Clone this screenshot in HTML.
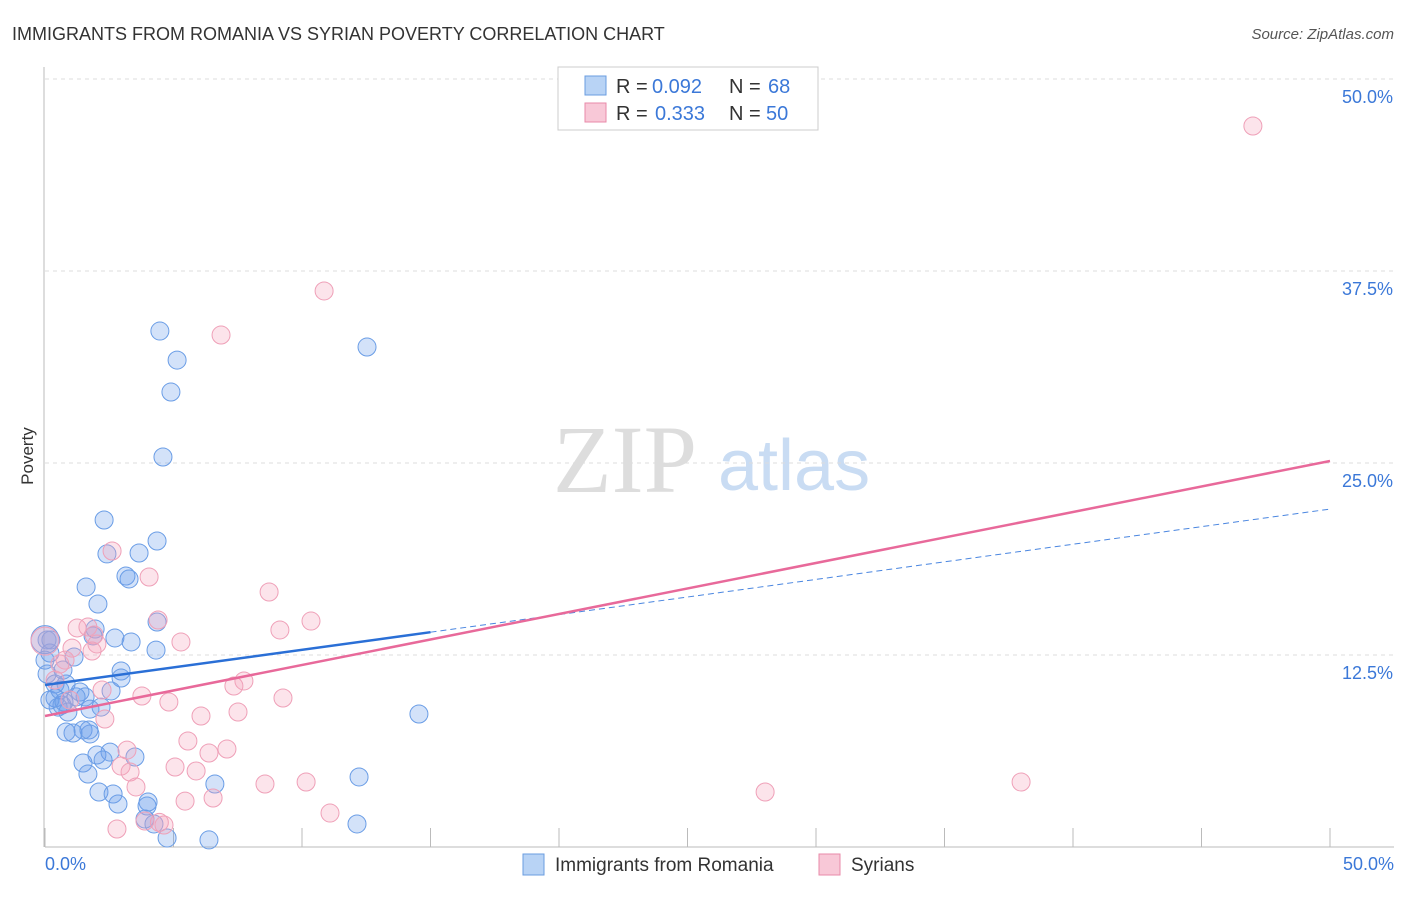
<!DOCTYPE html>
<html><head><meta charset="utf-8"><style>
body{margin:0;background:#fff;font-family:"Liberation Sans",sans-serif}
svg text{font-family:"Liberation Sans",sans-serif}
</style></head><body>
<svg id="chart" width="1406" height="892" xmlns="http://www.w3.org/2000/svg">
<text x="12" y="40" font-size="18" fill="#333">IMMIGRANTS FROM ROMANIA VS SYRIAN POVERTY CORRELATION CHART</text>
<text x="1394" y="39" font-size="15" fill="#555" text-anchor="end" font-style="italic">Source: ZipAtlas.com</text>
<text x="33" y="456" font-size="17" fill="#333" text-anchor="middle" transform="rotate(-90 33 456)">Poverty</text>
<g>
<text x="553" y="492" font-size="96" fill="#ddd" style="font-family:'Liberation Serif',serif">ZIP</text>
<text x="718" y="490" font-size="72" fill="#c9dcf3">atlas</text>
</g>
<g id="grid"></g>
<g id="axes"></g>
<g id="marks"></g>
<g>
<rect x="558" y="67" width="260" height="63" fill="#fff" stroke="#ccc"/>
<rect x="585" y="76" width="21" height="19" fill="#b8d3f5" stroke="#6a9de0"/>
<rect x="585" y="103" width="21" height="19" fill="#f8c8d7" stroke="#e88aa8"/>
<text x="616" y="93" font-size="20" fill="#333">R =</text>
<text x="652" y="93" font-size="20" fill="#3b78d8">0.092</text>
<text x="729" y="93" font-size="20" fill="#333">N =</text>
<text x="768" y="93" font-size="20" fill="#3b78d8">68</text>
<text x="616" y="120" font-size="20" fill="#333">R =</text>
<text x="655" y="120" font-size="20" fill="#3b78d8">0.333</text>
<text x="729" y="120" font-size="20" fill="#333">N =</text>
<text x="766" y="120" font-size="20" fill="#3b78d8">50</text>
</g>
<g>
<rect x="523" y="854" width="21" height="21" fill="#b8d3f5" stroke="#6a9de0"/>
<text x="555" y="871" font-size="19" fill="#333">Immigrants from Romania</text>
<rect x="819" y="854" width="21" height="21" fill="#f8c8d7" stroke="#e88aa8"/>
<text x="851" y="871" font-size="19" fill="#333">Syrians</text>
</g>
</svg>
<script>
const NS="http://www.w3.org/2000/svg";
const yTicks=[12.5,25,37.5,50];
const yTickLabels=["12.5%","25.0%","37.5%","50.0%"];
const xTicks=[0,5,10,15,20,25,30,35,40,45,50];
const blueX=[4.47,5.14,4.90,12.53,4.59,2.30,4.36,2.41,3.66,1.60,3.15,3.27,2.06,4.36,1.87,1.95,2.72,3.35,4.32,0.08,0.19,1.13,2.96,2.96,0.08,0.39,0.82,1.36,2.57,1.56,0.39,0.66,1.21,2.18,1.75,0.89,0.51,0.19,0.58,1.48,1.09,0.82,1.75,1.71,2.02,2.53,3.50,2.26,1.48,1.67,6.61,12.22,14.55,2.10,2.65,2.84,4.01,3.97,3.89,4.24,12.14,4.75,6.38,0.23,0.70,0.0,0.74,0.0];
const blueY=[33.59,31.70,29.62,32.55,25.39,21.29,19.92,19.08,19.14,16.93,17.64,17.45,15.82,14.65,13.74,14.19,13.61,13.35,12.82,13.48,12.63,12.37,11.46,11.00,11.26,10.61,10.61,10.09,10.16,9.77,9.70,9.24,9.77,9.11,8.98,8.79,9.11,9.57,10.22,7.62,7.42,7.49,7.36,7.62,5.99,6.18,5.86,5.66,5.47,4.75,4.10,4.56,8.66,3.58,3.45,2.80,2.93,2.67,1.82,1.50,1.50,0.59,0.46,13.48,11.52,12.17,9.44,13.5];
const pinkX=[47.00,10.86,6.85,2.61,4.05,8.72,10.35,9.14,4.40,1.25,1.67,1.91,2.02,1.83,5.29,1.05,0.78,0.58,7.74,7.35,2.22,3.77,9.26,4.82,6.07,7.51,2.33,5.56,7.08,6.38,3.19,5.06,2.96,3.31,5.88,3.54,8.56,10.16,37.98,28.02,5.45,6.54,3.89,11.09,2.80,4.63,0.39,0.97,4.45,0.0];
const pinkY=[46.94,36.20,33.33,19.27,17.58,16.60,14.71,14.13,14.78,14.26,14.32,13.80,13.22,12.76,13.35,12.95,12.17,11.91,10.81,10.48,10.22,9.83,9.70,9.44,8.53,8.79,8.33,6.90,6.38,6.12,6.31,5.21,5.27,4.88,4.95,3.91,4.10,4.23,4.23,3.58,2.99,3.19,1.69,2.21,1.17,1.43,10.87,9.57,1.6,13.4];
const blueTrend=[10.55,22.0];
const blueSolidEnd=15.0;
const pinkTrend=[8.53,25.13];
const X0=45,X1=1330,Y0=847,Y1=79;
const sx=v=>X0+(v/50)*(X1-X0);
const sy=v=>Y0-(v/50)*(Y0-Y1);
function mk(tag,attrs,parent){const e=document.createElementNS(NS,tag);for(const k in attrs)e.setAttribute(k,attrs[k]);document.getElementById(parent).appendChild(e);return e;}
yTicks.forEach((t,i)=>{
 const g=mk("line",{x1:X0,x2:1394,y1:sy(t),y2:sy(t),stroke:"#ddd","stroke-dasharray":"4,4"},"grid");
 
 
 const tx=mk("text",{x:1393,y:sy(t)+24,"font-size":18,fill:"#3b78d8","text-anchor":"end"},"axes");
 tx.textContent=yTickLabels[i];
 
 
});
const la=mk("line",{x1:X0-1,x2:X0-1,y1:67,y2:Y0,stroke:"#bbb"},"axes");


const ba=mk("line",{x1:X0,x2:1394,y1:Y0,y2:Y0,stroke:"#bbb"},"axes");


xTicks.forEach(t=>{
 const l=mk("line",{x1:sx(t),x2:sx(t),y1:828,y2:Y0,stroke:"#bbb"},"axes");
 
 
});
const xl0=mk("text",{x:45,y:870,"font-size":18,fill:"#3b78d8"},"axes");xl0.textContent="0.0%";


const xl1=mk("text",{x:1394,y:870,"font-size":18,fill:"#3b78d8","text-anchor":"end"},"axes");xl1.textContent="50.0%";


blueX.forEach((v,i)=>{
 const big=i===blueX.length-1;
 const c=mk("circle",{cx:sx(v),cy:sy(blueY[i]),r:big?14:9,fill:"rgba(110,160,235,0.3)",stroke:"#6a9de6","stroke-width":1},"marks");
 
 
});
pinkX.forEach((v,i)=>{
 const big=i===pinkX.length-1;
 const c=mk("circle",{cx:sx(v),cy:sy(pinkY[i]),r:big?14:9,fill:"rgba(245,165,190,0.3)",stroke:"#efa0b8","stroke-width":1},"marks");
 
 
});
const bl=v=>blueTrend[0]+(blueTrend[1]-blueTrend[0])*v/50;
const pl=v=>pinkTrend[0]+(pinkTrend[1]-pinkTrend[0])*v/50;
const bd=mk("line",{x1:sx(blueSolidEnd),y1:sy(bl(blueSolidEnd)),x2:sx(50),y2:sy(bl(50)),stroke:"#4a86e0","stroke-width":1,"stroke-dasharray":"6,4"},"marks");


const pt=mk("line",{x1:sx(0),y1:sy(pl(0)),x2:sx(50),y2:sy(pl(50)),stroke:"#e8699a","stroke-width":2.5},"marks");


const bt=mk("line",{x1:sx(0),y1:sy(bl(0)),x2:sx(blueSolidEnd),y2:sy(bl(blueSolidEnd)),stroke:"#2a6fd6","stroke-width":2.5},"marks");


</script>
</body></html>
